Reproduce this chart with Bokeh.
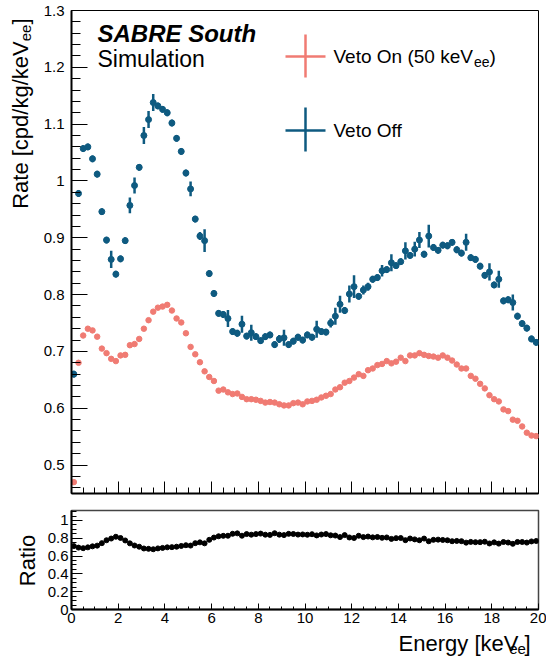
import math
from bokeh.plotting import figure
from bokeh.models import Range1d, FixedTicker, CustomJSTickFormatter, Label, ColumnDataSource
from bokeh.layouts import column, row
from bokeh.embed import file_html
from bokeh.resources import INLINE

# ---------------- data ----------------
energy_kev = [round(0.1 + 0.2 * i, 1) for i in range(100)]  # bin centres, 0.2 keV bins

veto_off = [
    0.660, 0.978, 1.057, 1.060, 1.039, 1.012, 0.946, 0.896, 0.862, 0.836,
    0.863, 0.895, 0.957, 0.992, 1.024, 1.080, 1.108, 1.138, 1.132, 1.126,
    1.120, 1.102, 1.075, 1.052, 1.014, 0.986, 0.933, 0.903, 0.895, 0.837,
    0.802, 0.767, 0.765, 0.758, 0.735, 0.732, 0.748, 0.727, 0.733, 0.726,
    0.719, 0.726, 0.729, 0.712, 0.722, 0.724, 0.712, 0.718, 0.725, 0.720,
    0.729, 0.725, 0.739, 0.735, 0.734, 0.750, 0.762, 0.783, 0.772, 0.801,
    0.814, 0.797, 0.808, 0.814, 0.827, 0.830, 0.842, 0.844, 0.856, 0.851,
    0.858, 0.877, 0.869, 0.880, 0.896, 0.871, 0.903, 0.883, 0.878, 0.887,
    0.886, 0.892, 0.879, 0.873, 0.892, 0.865, 0.862, 0.850, 0.834, 0.840,
    0.817, 0.827, 0.789, 0.791, 0.786, 0.762, 0.749, 0.741, 0.722, 0.716,
]

veto_off_err = [
    0.006, 0.006, 0.006, 0.006, 0.006, 0.006, 0.006, 0.006, 0.015, 0.006,
    0.006, 0.006, 0.014, 0.014, 0.006, 0.015, 0.015, 0.015, 0.006, 0.006,
    0.006, 0.006, 0.006, 0.006, 0.006, 0.013, 0.006, 0.007, 0.020, 0.006,
    0.006, 0.006, 0.006, 0.015, 0.006, 0.006, 0.015, 0.006, 0.014, 0.006,
    0.006, 0.006, 0.006, 0.006, 0.007, 0.014, 0.006, 0.006, 0.006, 0.006,
    0.006, 0.006, 0.015, 0.006, 0.006, 0.008, 0.015, 0.015, 0.006, 0.015,
    0.020, 0.006, 0.008, 0.007, 0.006, 0.006, 0.010, 0.006, 0.015, 0.006,
    0.006, 0.015, 0.006, 0.013, 0.014, 0.006, 0.020, 0.006, 0.006, 0.006,
    0.006, 0.006, 0.006, 0.006, 0.015, 0.006, 0.006, 0.006, 0.006, 0.015,
    0.006, 0.015, 0.006, 0.006, 0.014, 0.006, 0.006, 0.006, 0.006, 0.006,
]

veto_on = [
    0.470, 0.680, 0.728, 0.740, 0.737, 0.726, 0.705, 0.697, 0.687, 0.683,
    0.693, 0.694, 0.711, 0.713, 0.722, 0.740, 0.755, 0.770, 0.777, 0.779,
    0.782, 0.772, 0.758, 0.751, 0.732, 0.708, 0.695, 0.681, 0.665, 0.655,
    0.648, 0.631, 0.633, 0.628, 0.625, 0.626, 0.620, 0.616, 0.616, 0.615,
    0.613, 0.610, 0.611, 0.610, 0.607, 0.605, 0.605, 0.609, 0.610, 0.607,
    0.612, 0.613, 0.615, 0.619, 0.622, 0.625, 0.633, 0.637, 0.645, 0.648,
    0.654, 0.660, 0.657, 0.667, 0.670, 0.676, 0.678, 0.683, 0.679, 0.682,
    0.689, 0.683, 0.693, 0.693, 0.697, 0.694, 0.692, 0.691, 0.689, 0.693,
    0.689, 0.684, 0.677, 0.670, 0.670, 0.657, 0.652, 0.643, 0.635, 0.623,
    0.616, 0.612, 0.598, 0.595, 0.580, 0.578, 0.568, 0.557, 0.552, 0.551,
]

ratio = [a / b for a, b in zip(veto_on, veto_off)]

x_major = [0, 2, 4, 6, 8, 10, 12, 14, 16, 18, 20]
rate_major = [0.5, 0.6, 0.7, 0.8, 0.9, 1.0, 1.1, 1.2, 1.3]
ratio_major = [0, 0.2, 0.4, 0.6, 0.8, 1.0]

# ---------------- style / layout ----------------
BLUE = "#0e5a80"
RED = "#f07b73"
FONT = "Liberation Sans"

STRIP_W = 40            # left strip holding the rotated axis titles
LEFT, RIGHT = 71, 8     # page position of the frames
FW = 467
TOP_T, TOP_H = 10, 483
BOT_T, BOT_H = 10, 99
BOT_STRIP_H = 30        # strip holding the x-axis title
Y0, Y1 = 0.45, 1.3
R0, R1 = 0.0, 1.112
MID = 0.35              # baseline -> visual middle of text, in em

# Liberation Sans (Arial metrics) advance widths /1000
CW = {' ': 278, '(': 333, ')': 333, '/': 278, '.': 278, '[': 278, ']': 278,
      'A': 667, 'B': 667, 'E': 667, 'O': 778, 'R': 722, 'S': 667, 'V': 667,
      'a': 556, 'c': 500, 'd': 556, 'e': 556, 'f': 278, 'g': 556, 'i': 222,
      'k': 500, 'l': 222, 'm': 833, 'n': 556, 'o': 556, 'p': 556, 'r': 333,
      't': 278, 'u': 556, 'y': 500}


def tw(s, size):
    return sum(CW.get(c, 556) for c in s) * size / 1000.0


def sx2x(sx):
    return (sx - LEFT) / FW * 20.0


def top_y(sy):
    return Y1 - (sy - TOP_T) / TOP_H * (Y1 - Y0)


def ident(v):
    return v


def hlabel(fig, tx, ty, pieces, sx, sy, align="left", style="normal"):
    """pieces placed side by side; sy is the page-pixel baseline."""
    total = sum(tw(t, s) for t, s, dy in pieces)
    x = sx if align == "left" else sx - total
    for t, s, dy in pieces:
        fig.add_layout(Label(x=tx(x), y=ty(sy + dy - MID * s), text=t, text_font=FONT,
                             text_font_size=f"{s}px", text_baseline="middle",
                             text_align="left", text_color="black", text_font_style=style))
        x += tw(t, s)


def vlabel(fig, pieces, bx, sy_start):
    """rotated text reading upwards; bx is the page-pixel baseline x."""
    y = sy_start
    for t, s, dx in pieces:
        fig.add_layout(Label(x=bx + dx - MID * s, y=y, text=t, text_font=FONT,
                             text_font_size=f"{s}px", text_baseline="middle",
                             text_align="left", angle=math.pi / 2, text_color="black"))
        y -= tw(t, s)


fmt = CustomJSTickFormatter(code="return String(Math.round(tick*100)/100);")
blank_fmt = CustomJSTickFormatter(code="return '';")


def style_axis(ax, tin, tmin, lab_size, standoff):
    ax.axis_line_width = 2
    ax.axis_line_color = "black"
    ax.major_tick_in = tin
    ax.major_tick_out = 0
    ax.minor_tick_in = tmin
    ax.minor_tick_out = 0
    ax.major_tick_line_color = "black"
    ax.minor_tick_line_color = "black"
    ax.major_label_text_font = FONT
    ax.major_label_text_color = "black"
    ax.major_label_text_font_size = f"{lab_size}px"
    ax.major_label_standoff = standoff


def blank_canvas(w, h, xr, yr):
    f = figure(width=w, height=h, x_range=xr, y_range=yr, x_axis_type=None, y_axis_type=None,
               output_backend="svg", toolbar_location=None, min_border=0)
    f.xgrid.visible = False
    f.ygrid.visible = False
    f.outline_line_color = None
    f.background_fill_color = "white"
    f.border_fill_color = "white"
    return f


# ---------------- top panel ----------------
p = figure(frame_width=FW, frame_height=TOP_H, x_range=Range1d(0, 20), y_range=Range1d(Y0, Y1),
           output_backend="svg", toolbar_location=None,
           min_border_left=LEFT - STRIP_W, min_border_right=RIGHT, min_border_top=TOP_T,
           min_border_bottom=7)
p.xgrid.visible = False
p.ygrid.visible = False
p.outline_line_color = "black"
p.outline_line_width = 1
p.background_fill_color = "white"
p.border_fill_color = "white"

p.xaxis.ticker = FixedTicker(ticks=x_major, minor_ticks=[i * 0.5 for i in range(41)])
p.yaxis.ticker = FixedTicker(ticks=rate_major, minor_ticks=[round(0.46 + 0.02 * i, 2) for i in range(43)])
p.yaxis.formatter = fmt
p.xaxis.formatter = blank_fmt
style_axis(p.xaxis[0], 12, 6, 1, 0)
style_axis(p.yaxis[0], 16, 9, 15, 7)

src_off = ColumnDataSource(dict(x=energy_kev, y=veto_off,
                                lo=[v - e for v, e in zip(veto_off, veto_off_err)],
                                hi=[v + e for v, e in zip(veto_off, veto_off_err)]))
src_on = ColumnDataSource(dict(x=energy_kev, y=veto_on))

p.scatter("x", "y", source=src_on, size=5.5, color=RED, line_color=RED)
p.segment(x0="x", y0="lo", x1="x", y1="hi", source=src_off, line_color=BLUE, line_width=2.5)
p.scatter("x", "y", source=src_off, size=6, color=BLUE, line_color=BLUE)

# legend crosses (error-bar style entries)
leg = ColumnDataSource(dict(
    x0=[sx2x(285), sx2x(305), sx2x(285), sx2x(305)],
    x1=[sx2x(325), sx2x(305), sx2x(325), sx2x(305)],
    y0=[top_y(56), top_y(34), top_y(130), top_y(107)],
    y1=[top_y(56), top_y(77), top_y(130), top_y(151)],
    c=[RED, RED, BLUE, BLUE]))
p.segment(x0="x0", y0="y0", x1="x1", y1="y1", source=leg, line_color="c", line_width=2.5)

hlabel(p, sx2x, top_y, [("Veto On (50 keV", 19, 0), ("ee", 14, 3), (")", 19, 0)], 333, 63)
hlabel(p, sx2x, top_y, [("Veto Off", 19, 0)], 333, 137)
hlabel(p, sx2x, top_y, [("SABRE South", 24, 0)], 97, 41, style="bold italic")
hlabel(p, sx2x, top_y, [("Simulation", 23, 0)], 97, 67)

# ---------------- ratio panel ----------------
q = figure(frame_width=FW, frame_height=BOT_H, x_range=p.x_range, y_range=Range1d(R0, R1),
           output_backend="svg", toolbar_location=None,
           min_border_left=LEFT - STRIP_W, min_border_right=RIGHT, min_border_top=BOT_T,
           min_border_bottom=53 - BOT_STRIP_H)
q.xgrid.visible = False
q.ygrid.visible = False
q.outline_line_color = "#444444"
q.outline_line_width = 1.5
q.background_fill_color = "white"
q.border_fill_color = "white"

q.xaxis.ticker = FixedTicker(ticks=x_major, minor_ticks=[i * 0.5 for i in range(41)])
q.yaxis.ticker = FixedTicker(ticks=ratio_major, minor_ticks=[round(0.05 * i, 2) for i in range(23)])
q.yaxis.formatter = fmt
style_axis(q.xaxis[0], 6, 3, 15, 3)
style_axis(q.yaxis[0], 11, 5, 15, 3)

src_r = ColumnDataSource(dict(x=energy_kev, y=ratio))
q.scatter("x", "y", source=src_r, size=5, color="black")

# ---------------- title strips (page-pixel coordinates) ----------------
left_strip = blank_canvas(STRIP_W, 662, Range1d(0, STRIP_W), Range1d(662, 0))
rate_pieces = [("Rate [cpd/kg/keV", 22, 0), ("ee", 15, 3), ("]", 22, 0)]
rate_len = sum(tw(t, s) for t, s, d in rate_pieces)
vlabel(left_strip, rate_pieces, 28, 18 + rate_len)
vlabel(left_strip, [("Ratio", 22, 0)], 35, 560 + tw("Ratio", 22) / 2)

bottom_strip = blank_canvas(546 - STRIP_W, BOT_STRIP_H, Range1d(STRIP_W, 546), Range1d(662, 662 - BOT_STRIP_H))
hlabel(bottom_strip, ident, ident, [("Energy [keV", 22, 0), ("ee", 15, 3), ("]", 22, 0)], 537, 651, align="right")

layout = row(left_strip, column(p, q, bottom_strip, spacing=0), spacing=0)
open("out.html", "w").write(file_html(layout, INLINE))
